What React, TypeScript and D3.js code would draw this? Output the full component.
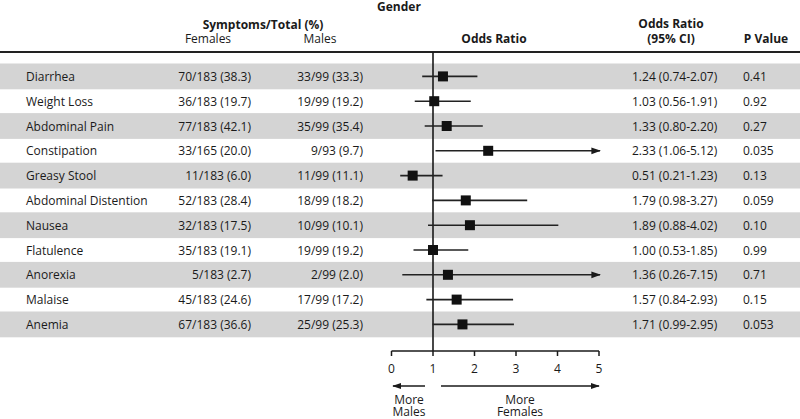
import React from "react";
import * as d3 from "d3";

const symptoms = ["Diarrhea", "Weight Loss", "Abdominal Pain", "Constipation", "Greasy Stool", "Abdominal Distention", "Nausea", "Flatulence", "Anorexia", "Malaise", "Anemia"];
const females = ["70/183 (38.3)", "36/183 (19.7)", "77/183 (42.1)", "33/165 (20.0)", "11/183 (6.0)", "52/183 (28.4)", "32/183 (17.5)", "35/183 (19.1)", "5/183 (2.7)", "45/183 (24.6)", "67/183 (36.6)"];
const males = ["33/99 (33.3)", "19/99 (19.2)", "35/99 (35.4)", "9/93 (9.7)", "11/99 (11.1)", "18/99 (18.2)", "10/99 (10.1)", "19/99 (19.2)", "2/99 (2.0)", "17/99 (17.2)", "25/99 (25.3)"];
const oddsRatio = [1.24, 1.03, 1.33, 2.33, 0.51, 1.79, 1.89, 1.0, 1.36, 1.57, 1.71];
const ciLow = [0.74, 0.56, 0.8, 1.06, 0.21, 0.98, 0.88, 0.53, 0.26, 0.84, 0.99];
const ciHigh = [2.07, 1.91, 2.2, 5.12, 1.23, 3.27, 4.02, 1.85, 7.15, 2.93, 2.95];
const pValues = ["0.41", "0.92", "0.27", "0.035", "0.13", "0.059", "0.10", "0.99", "0.71", "0.15", "0.053"];
const axisTicks = [0, 1, 2, 3, 4, 5];

const W = 800;
const H = 419;
const FONT = "'Open Sans', sans-serif";
const INK = "#1a1a1a";

export default function App() {
  const x = d3.scaleLinear().domain([0, 5]).range([391.5, 599]);
  const y = d3
    .scaleBand<number>()
    .domain(d3.range(symptoms.length))
    .range([64, 64 + 24.8 * symptoms.length])
    .padding(0);
  const axisY = 351;
  const fmt = (v: number) => v.toFixed(2);

  return (
    <svg
      width={W}
      height={H}
      style={{ position: "absolute", left: 0, top: 0, fontFamily: FONT }}
    >
      <defs>
        <marker id="arr" viewBox="0 0 10 10" refX="9" refY="5" markerWidth="6" markerHeight="6" markerUnits="strokeWidth" orient="auto-start-reverse">
          <path d="M0,1.5 L10,5 L0,8.5 Z" fill={INK} />
        </marker>
      </defs>
      <rect x={0} y={0} width={W} height={H} fill="#fff" />
      {symptoms.map((s, i) =>
        i % 2 === 0 ? (
          <rect key={"b" + i} x={0} y={y(i)! - 0.5} width={W} height={y.bandwidth() + 1} fill="#d4d4d4" />
        ) : null
      )}
      <g fill={INK} fontSize={12}>
        <text x={399} y={11} textAnchor="middle" fontWeight="bold">Gender</text>
        <text x={263} y={29} textAnchor="middle" fontWeight="bold">Symptoms/Total (%)</text>
        <text x={208} y={43} textAnchor="middle">Females</text>
        <text x={320} y={43} textAnchor="middle">Males</text>
        <text x={494} y={43} textAnchor="middle" fontWeight="bold">Odds Ratio</text>
        <text x={671} y={28} textAnchor="middle" fontWeight="bold">Odds Ratio</text>
        <text x={671} y={43} textAnchor="middle" fontWeight="bold">(95% CI)</text>
        <text x={766} y={43} textAnchor="middle" fontWeight="bold">P Value</text>
      </g>
      <line x1={0} x2={W} y1={52} y2={52} stroke="#222" strokeWidth={2} />
      <line x1={x(1)} x2={x(1)} y1={52} y2={axisY} stroke={INK} strokeWidth={1.6} />
      {symptoms.map((s, i) => {
        const cy = y(i)! + y.bandwidth() / 2;
        const hi = Math.min(ciHigh[i], 5);
        const trunc = ciHigh[i] > 5;
        return (
          <g key={"r" + i}>
            <text x={26} y={cy + 4.5} fontSize={12} fill={INK}>{s}</text>
            <text x={251} y={cy + 4.5} fontSize={12} fill={INK} textAnchor="end">{females[i]}</text>
            <text x={363} y={cy + 4.5} fontSize={12} fill={INK} textAnchor="end">{males[i]}</text>
            <line
              x1={x(ciLow[i])}
              x2={trunc ? x(hi) + 1 : x(hi)}
              y1={cy}
              y2={cy}
              stroke="#222"
              strokeWidth={1.6}
              markerEnd={trunc ? "url(#arr)" : undefined}
            />
            <rect x={x(oddsRatio[i]) - 5} y={cy - 5} width={10} height={10} fill="#111" />
            <text x={632} y={cy + 4.5} fontSize={12} fill={INK}>
              {`${fmt(oddsRatio[i])} (${fmt(ciLow[i])}-${fmt(ciHigh[i])})`}
            </text>
            <text x={743} y={cy + 4.5} fontSize={12} fill={INK}>{pValues[i]}</text>
          </g>
        );
      })}
      <line x1={x(0)} x2={x(5)} y1={axisY} y2={axisY} stroke={INK} strokeWidth={1.5} />
      {axisTicks.map((t) => (
        <g key={"t" + t}>
          <line x1={x(t)} x2={x(t)} y1={axisY} y2={axisY + 5} stroke={INK} strokeWidth={1.5} />
          <text x={x(t)} y={373} textAnchor="middle" fontSize={12} fill={INK}>{t}</text>
        </g>
      ))}
      <line x1={425} x2={393} y1={386} y2={386} stroke={INK} strokeWidth={1.5} markerEnd="url(#arr)" />
      <line x1={441} x2={599} y1={386} y2={386} stroke={INK} strokeWidth={1.5} markerEnd="url(#arr)" />
      <g fontSize={12} fill={INK} textAnchor="middle">
        <text x={409} y={403.5}>More</text>
        <text x={409} y={416}>Males</text>
        <text x={520} y={403.5}>More</text>
        <text x={520} y={416}>Females</text>
      </g>
    </svg>
  );
}
